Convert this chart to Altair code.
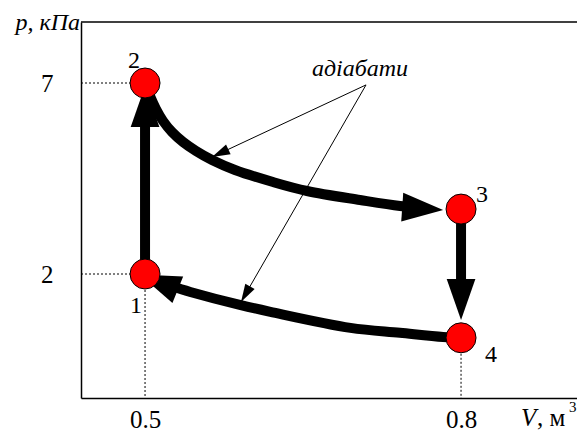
import altair as alt
import pandas as pd

# ---- data ----
STATE_LABELS = ["1", "2", "3", "4"]
STATE_V = [0.5, 0.5, 0.8, 0.8]
STATE_P = [2.0, 7.0, 3.70, 0.33]

# adiabat 2 -> 3
AD23_V = [0.500, 0.5047, 0.5104, 0.5171, 0.5256, 0.5361, 0.5484, 0.5636, 0.5854, 0.6215, 0.6538, 0.7041, 0.7421, 0.7658]
AD23_P = [7.00, 6.66, 6.32, 6.005, 5.717, 5.455, 5.22, 4.984, 4.723, 4.408, 4.173, 3.937, 3.78, 3.728]

# adiabat 4 -> 1
AD41_V = [0.800, 0.783, 0.742, 0.695, 0.619, 0.590, 0.543, 0.524]
AD41_P = [0.33, 0.35, 0.46, 0.59, 1.01, 1.19, 1.53, 1.69]

# isochores 1 -> 2 and 3 -> 4
ISO12_V = [0.5, 0.5]
ISO12_P = [2.0, 6.16]
ISO34_V = [0.8, 0.8]
ISO34_P = [3.70, 1.32]

# arrow heads of the cycle (tip position, direction)
ARROW_V = [0.500, 0.783, 0.800, 0.495]
ARROW_P = [6.92, 3.675, 0.796, 1.99]
ARROW_ANGLE = [270, 4, 90, 202]

# annotation "адіабати"
ANNOT_TEXT = "адіабати"
ANNOT_FROM_V = 0.7098
ANNOT_FROM_P = 6.95
ANNOT_TO_V = [0.5636, 0.5911]
ANNOT_TO_P = [5.063, 1.267]
ANNOT_ANGLE = [154.9, 119.9]

Y_TITLE = "p, кПа"
X_TITLE = "V"
X_UNIT = ", м"
X_UNIT_SUP = "3"

X_TICKS = [0.5, 0.8]
Y_TICKS = [2, 7]
W, H = 496, 376
X_DOMAIN = [0.4392, 0.4392 + W / 1053.33]
Y_DOMAIN = [-1.246, 8.597]

FONT = "Liberation Serif"

# ---- tables ----
lines = []
for seg, vs, ps in [("23", AD23_V, AD23_P), ("41", AD41_V, AD41_P)]:
    for i, (v, p) in enumerate(zip(vs, ps)):
        lines.append({"seg": seg, "ord": i, "V": v, "P": p})
curves = pd.DataFrame(lines)

iso = []
for seg, vs, ps in [("12", ISO12_V, ISO12_P), ("34", ISO34_V, ISO34_P)]:
    iso.append({"seg": seg, "V": vs[0], "P": ps[0], "V2": vs[1], "P2": ps[1]})
iso = pd.DataFrame(iso)

states = pd.DataFrame({"label": STATE_LABELS, "V": STATE_V, "P": STATE_P})
arrows = pd.DataFrame({"V": ARROW_V, "P": ARROW_P, "A": ARROW_ANGLE})

guides = pd.DataFrame([
    {"V": X_DOMAIN[0], "P": STATE_P[1], "V2": STATE_V[1], "P2": STATE_P[1]},
    {"V": X_DOMAIN[0], "P": STATE_P[0], "V2": STATE_V[0], "P2": STATE_P[0]},
    {"V": STATE_V[0], "P": STATE_P[0], "V2": STATE_V[0], "P2": Y_DOMAIN[0]},
    {"V": STATE_V[3], "P": STATE_P[3], "V2": STATE_V[3], "P2": Y_DOMAIN[0]},
])

annot_lines = pd.DataFrame({
    "V": [ANNOT_FROM_V] * len(ANNOT_TO_V), "P": [ANNOT_FROM_P] * len(ANNOT_TO_P),
    "V2": ANNOT_TO_V, "P2": ANNOT_TO_P,
})
annot_heads = pd.DataFrame({"V": ANNOT_TO_V, "P": ANNOT_TO_P, "A": ANNOT_ANGLE})

# ---- scales / axes ----
xs = alt.Scale(domain=X_DOMAIN, nice=False, zero=False)
ys = alt.Scale(domain=Y_DOMAIN, nice=False, zero=False)
xaxis = alt.Axis(values=X_TICKS, format=".1f", title=None, ticks=False, grid=False,
                 labelFont=FONT, labelFontSize=25, labelColor="black", labelPadding=9,
                 domainColor="black", domainWidth=1.5, labelFlush=False, labelOverlap=False)
yaxis = alt.Axis(values=Y_TICKS, format="d", title=None, ticks=False, grid=False,
                 labelFont=FONT, labelFontSize=25, labelColor="black", labelPadding=28,
                 domainColor="black", domainWidth=1.5, labelOverlap=False)

X = alt.X("V:Q", scale=xs, axis=xaxis)
Y = alt.Y("P:Q", scale=ys, axis=yaxis)

ARROW_PATH = "M0,0 L-2,-0.7 L-2,0.7 Z"
THIN_PATH = "M0,0 L-2,-0.6 L-2,0.6 Z"

one = pd.DataFrame({"k": [0]})

top_line = alt.Chart(one).mark_rule(color="black", strokeWidth=1.5).encode(
    x=alt.value(0), x2=alt.value(W), y=alt.value(0))

guide_layer = alt.Chart(guides).mark_rule(color="black", strokeWidth=1, strokeDash=[2, 2]).encode(
    x=X, y=Y, x2="V2:Q", y2="P2:Q")

annot_line_layer = alt.Chart(annot_lines).mark_rule(color="black", strokeWidth=1).encode(
    x=X, y=Y, x2="V2:Q", y2="P2:Q")
annot_head_layer = alt.Chart(annot_heads).mark_point(
    shape=THIN_PATH, filled=True, color="black", size=324, opacity=1).encode(
    x=X, y=Y, angle=alt.Angle("A:Q", scale=None))

curve_layer = alt.Chart(curves).mark_line(
    color="black", strokeWidth=10, interpolate="catmull-rom", strokeCap="butt").encode(
    x=X, y=Y, detail="seg:N", order="ord:Q")
iso_layer = alt.Chart(iso).mark_rule(color="black", strokeWidth=10).encode(
    x=X, y=Y, x2="V2:Q", y2="P2:Q")
arrow_layer = alt.Chart(arrows).mark_point(
    shape=ARROW_PATH, filled=True, color="black", size=1681, opacity=1).encode(
    x=X, y=Y, angle=alt.Angle("A:Q", scale=None))

circle_layer = alt.Chart(states).mark_point(
    shape="circle", filled=True, fill="#ff0000", stroke="black", strokeWidth=1,
    size=900, opacity=1).encode(x=X, y=Y)

label_offsets = {"1": (-9, 32), "2": (-11, -22), "3": (21, -14), "4": (30, 17)}
label_layers = []
for lab, (dx, dy) in label_offsets.items():
    label_layers.append(
        alt.Chart(states[states.label == lab]).mark_text(
            font=FONT, fontSize=24, color="black", align="center",
            baseline="middle", dx=dx, dy=dy).encode(x=X, y=Y, text="label:N"))


def free_text(txt, x, y, size, italic, align="left"):
    return alt.Chart(pd.DataFrame({"t": [txt]})).mark_text(
        font=FONT, fontSize=size, fontStyle="italic" if italic else "normal",
        color="black", align=align, baseline="alphabetic").encode(
        x=alt.value(x), y=alt.value(y), text="t:N")


annot_text = free_text(ANNOT_TEXT, 279, 54, 24, True, "center")
p_title = free_text(Y_TITLE, -1, 8, 24, True, "right")
v_title = free_text(X_TITLE, 440, 404, 25, True)
v_unit = free_text(X_UNIT, 456, 404, 25, False)
v_sup = free_text(X_UNIT_SUP, 488, 390, 15, False)

chart = alt.layer(
    top_line, guide_layer, annot_line_layer, curve_layer, iso_layer, arrow_layer,
    annot_head_layer, circle_layer, *label_layers, annot_text, p_title, v_title, v_unit, v_sup
).properties(
    width=W, height=H,
    autosize=alt.AutoSizeParams(type="none"),
    padding={"left": 73, "top": 14, "right": 0, "bottom": 35},
    background="white",
).configure_view(stroke=None)

chart.save("out.html", embed_options={"renderer": "svg", "actions": False})
